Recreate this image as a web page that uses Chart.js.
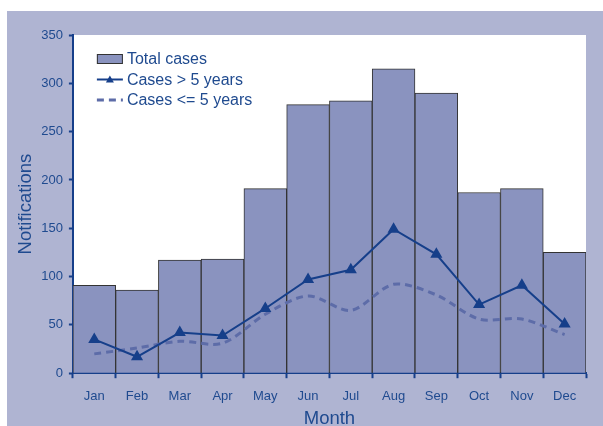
<!DOCTYPE html>
<html>
<head>
<meta charset="utf-8">
<script src="https://cdn.jsdelivr.net/npm/chart.js@4.4.1/dist/chart.umd.min.js"></script>
<style>
  html, body { margin: 0; padding: 0; background: #ffffff; }
  #box { position: absolute; left: 7px; top: 11px; width: 596px; height: 415px; background: #afb4d2; }
</style>
</head>
<body>
<div id="box"><canvas id="notifChart" width="596" height="415"></canvas></div>
<script>
var months = ["Jan", "Feb", "Mar", "Apr", "May", "Jun", "Jul", "Aug", "Sep", "Oct", "Nov", "Dec"];
var totalCases = [91, 86, 117, 118, 191, 278, 282, 315, 290, 187, 191, 125];
var casesOver5 = [35, 17, 42, 39, 67, 97, 107, 149, 123, 71, 91, 51];
var casesUpTo5 = [20, 26, 33, 31, 61, 80, 65, 92, 81, 56, 56, 40];
var yTicks = [0, 50, 100, 150, 200, 250, 300, 350];

var textBlue = "#1f4a8f";
var lineBlue = "#163f8a";
var dashBlue = "#5d6ca8";
var fontFam = "'Liberation Sans', Arial, sans-serif";

// white plot area
var plotBg = {
    id: "plotBg",
    beforeDraw: function (chart) {
        var a = chart.chartArea, ctx = chart.ctx;
        ctx.save();
        ctx.fillStyle = "#ffffff";
        ctx.fillRect(a.left, a.top, a.right - a.left, a.bottom - a.top);
        ctx.restore();
    }
};

// legend drawn inside the plot, top left
var innerLegend = {
    id: "innerLegend",
    afterDraw: function (chart) {
        var ctx = chart.ctx, a = chart.chartArea;
        var x = a.left + 24, y = a.top + 24;
        var ds = chart.data.datasets;
        ctx.save();
        ctx.font = "16px " + fontFam;
        ctx.textBaseline = "middle";
        ds.forEach(function (d, i) {
            var cy = y + i * 20.5;
            if (d.type === "bar") {
                ctx.fillStyle = d.backgroundColor;
                ctx.fillRect(x, cy - 5, 26, 10);
                ctx.strokeStyle = d.borderColor;
                ctx.lineWidth = 1;
                ctx.strokeRect(x + 0.5, cy - 4.5, 25, 9);
            } else {
                ctx.strokeStyle = d.borderColor;
                ctx.lineWidth = d.borderWidth;
                ctx.setLineDash(d.borderDash || []);
                ctx.beginPath();
                ctx.moveTo(x, cy);
                ctx.lineTo(x + 26, cy);
                ctx.stroke();
                ctx.setLineDash([]);
                if (d.pointRadius > 0) {
                    ctx.fillStyle = d.borderColor;
                    ctx.beginPath();
                    ctx.moveTo(x + 13, cy - 4);
                    ctx.lineTo(x + 17, cy + 3);
                    ctx.lineTo(x + 9, cy + 3);
                    ctx.closePath();
                    ctx.fill();
                }
            }
            ctx.fillStyle = textBlue;
            ctx.fillText(d.label, x + 30, cy + 1);
        });
        ctx.restore();
    }
};

new Chart(document.getElementById("notifChart"), {
    data: {
        labels: months,
        datasets: [
            {
                type: "bar",
                label: "Total cases",
                data: totalCases,
                backgroundColor: "#8a93bf",
                borderColor: "#333333",
                borderWidth: 1,
                barPercentage: 1,
                categoryPercentage: 1,
                order: 3
            },
            {
                type: "line",
                label: "Cases > 5 years",
                data: casesOver5,
                borderColor: lineBlue,
                backgroundColor: lineBlue,
                borderWidth: 2,
                pointStyle: "triangle",
                pointRadius: 5,
                tension: 0,
                order: 1
            },
            {
                type: "line",
                label: "Cases <= 5 years",
                data: casesUpTo5,
                borderColor: dashBlue,
                borderWidth: 3,
                borderDash: [7, 5],
                pointRadius: 0,
                tension: 0.3,
                order: 2
            }
        ]
    },
    options: {
        responsive: false,
        animation: false,
        layout: { padding: { top: 24, right: 17, left: 8, bottom: -4 } },
        plugins: {
            legend: { display: false },
            tooltip: { enabled: false }
        },
        scales: {
            x: {
                offset: true,
                grid: { offset: true, drawOnChartArea: false, color: lineBlue, tickLength: 5, tickWidth: 2 },
                border: { color: lineBlue, width: 2 },
                ticks: { color: textBlue, font: { size: 13, family: fontFam }, padding: 10 },
                title: { display: true, text: "Month", color: textBlue, font: { size: 18.5, family: fontFam }, padding: { top: -6, bottom: 0 } }
            },
            y: {
                min: 0,
                max: 350,
                afterBuildTicks: function (axis) {
                    axis.ticks = yTicks.map(function (v) { return { value: v }; });
                },
                grid: { drawOnChartArea: false, color: lineBlue, tickLength: 4, tickWidth: 2 },
                border: { color: lineBlue, width: 2 },
                ticks: { color: textBlue, font: { size: 13, family: fontFam }, padding: 6 },
                title: { display: true, text: "Notifications", color: textBlue, font: { size: 18.5, family: fontFam }, padding: { top: 0, bottom: -2 } }
            }
        }
    },
    plugins: [plotBg, innerLegend]
});
</script>
</body>
</html>
